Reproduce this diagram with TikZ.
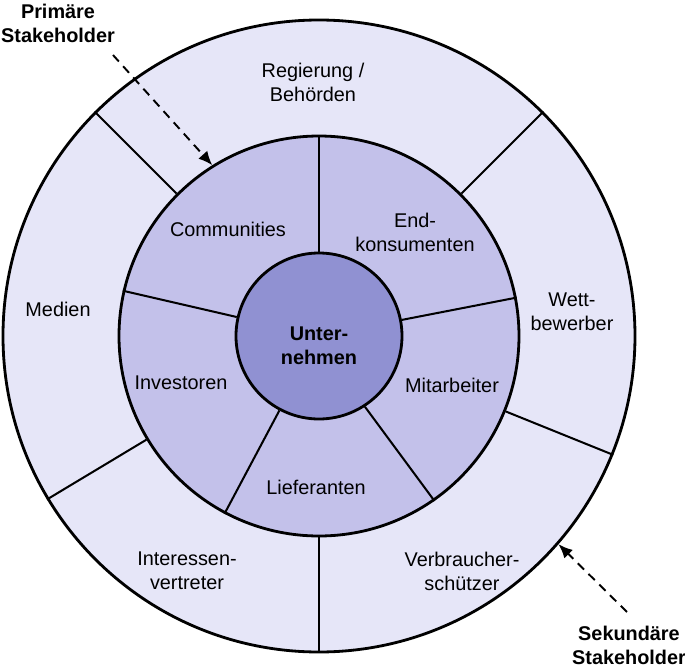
\documentclass[tikz,border=0pt]{standalone}
\usepackage{fontspec}
\setmainfont{Liberation Sans}
\usepackage{tikz}
\usetikzlibrary{arrows.meta, positioning}
\definecolor{outerlav}{RGB}{230, 230, 248}
\definecolor{midlav}{RGB}{195, 193, 234}
\definecolor{corelav}{RGB}{144, 145, 210}

\tikzset{
  ring/.style={circle, draw=black, line width=1.6pt, inner sep=0pt},
  divider/.style={black, line width=1.15pt},
  group/.style={align=center, font=\fontsize{11.3}{13.7}\selectfont},
  head/.style={align=center, font=\fontsize{11.3}{13.7}\selectfont\bfseries},
  pointer/.style={-{Latex[length=2.8mm, width=2.4mm]}, line width=1.1pt,
                  dash pattern=on 5pt off 3.6pt}
}

\begin{document}
\begin{tikzpicture}
        \useasboundingbox (-6.38,-6.66) rectangle (7.32,6.72);

        % RINGS
        \node[ring, fill=outerlav, minimum size=12.64cm] (outer) at (0,0) {};
        \node[ring, fill=midlav, minimum size=8.0cm] (mid) at (0,0) {};

        % SECONDARY SEGMENTS
        \draw[divider] (mid.45) -- (outer.45);
        \draw[divider] (mid.135) -- (outer.135);
        \draw[divider] (mid.211) -- (outer.211);
        \draw[divider] (mid.270) -- (outer.270);
        \draw[divider] (mid.-22.5) -- (outer.-22.5);

        % PRIMARY SEGMENTS
        \node[ring, fill=corelav, minimum size=3.32cm] (core) at (0,0) {};
        \draw[divider] (core.90) -- (mid.90);
        \draw[divider] (core.167) -- (mid.167);
        \draw[divider] (core.242) -- (mid.242);
        \draw[divider] (core.-57) -- (mid.-55.5);
        \draw[divider] (core.11.5) -- (mid.11.5);

        % LABELS
        \node[head] (firm) at (0,-0.2) {Unter-\\nehmen};
        \node[group] (comm) at (-1.82,2.14) {Communities};
        \node[group] (endk) at (1.92,2.08) {End-\\konsumenten};
        \node[group] (inv) at (-2.76,-0.94) {Investoren};
        \node[group] (mitar) at (2.66,-0.98) {Mitarbeiter};
        \node[group] (lief) at (-0.06,-3.02) {Lieferanten};
        \node[group] (gov) at (-0.12,5.08) {Regierung /\\Behörden};
        \node[group] (wett) at (5.06,0.48) {Wett-\\bewerber};
        \node[group] (medien) at (-5.22,0.54) {Medien};
        \node[group] (intv) at (-2.64,-4.70) {Interessen-\\vertreter};
        \node[group] (vschutz) at (2.86,-4.70) {Verbraucher-\\schützer};

        % STAKEHOLDER TYPES
        \node[head] (prim) at (-5.22,6.26) {Primäre\\Stakeholder};
        \node[head] (sek) at (6.2,-6.18) {Sekundäre\\Stakeholder};
        \coordinate (primstart) at (-4.12,5.62);
        \coordinate (sekstart) at (6.16,-5.52);
        \draw[pointer] (primstart) -- (mid.122.7);
        \draw[pointer] (sekstart) -- (outer.-41.6);
      \end{tikzpicture}
\end{document}
